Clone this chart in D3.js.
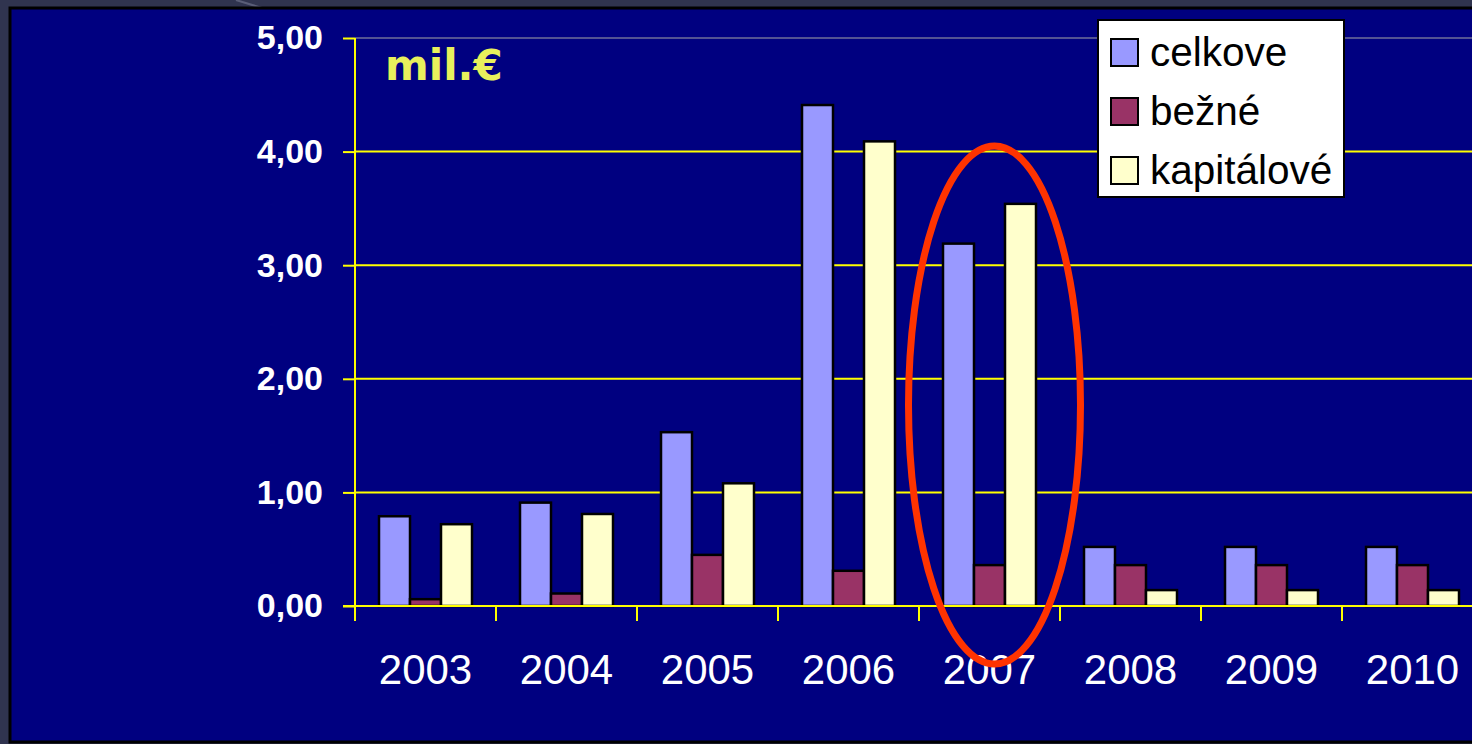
<!DOCTYPE html>
<html>
<head>
<meta charset="utf-8">
<script src="https://cdn.jsdelivr.net/npm/d3@7"></script>
<style>
  html, body { margin: 0; padding: 0; background: #2f3352; }
  svg { display: block; }
</style>
</head>
<body>
<svg id="chart"></svg>
<script>
// years on the x axis
var years = ['2003', '2004', '2005', '2006', '2007', '2008', '2009', '2010'];
// series names (legend)
var seriesNames = ['celkove', 'bežné', 'kapitálové'];
// values in mil. EUR
var celkove    = [0.79, 0.91, 1.53, 4.41, 3.19, 0.52, 0.52, 0.52];
var bezne      = [0.06, 0.11, 0.45, 0.31, 0.36, 0.36, 0.36, 0.36];
var kapitalove = [0.72, 0.81, 1.08, 4.09, 3.54, 0.14, 0.14, 0.14];
var yTicks = [0, 1, 2, 3, 4, 5];

var colors = ['#9999ff', '#993366', '#ffffcc'];

var width = 1472, height = 744;

var chart = d3.select('#chart')
  .attr('width', width)
  .attr('height', height);

// build rows for the grouped bars
var seriesValues = [celkove, bezne, kapitalove];
var data = years.map(function(y, i) {
  return {
    year: y,
    values: seriesNames.map(function(s, j) { return { name: s, idx: j, value: seriesValues[j][i] }; })
  };
});

// slide background: dark panel with black frame
chart.append('rect')
  .attr('x', 0).attr('y', 0)
  .attr('width', width).attr('height', height)
  .attr('fill', '#30344f');
chart.append('line')
  .attr('x1', 236).attr('y1', 0).attr('x2', 262).attr('y2', 8)
  .attr('stroke', '#5a5e78').attr('stroke-width', 2);
chart.append('rect')
  .attr('x', 10).attr('y', 8)
  .attr('width', width + 20).attr('height', 734)
  .attr('fill', '#000080')
  .attr('stroke', '#000').attr('stroke-width', 3);

// scales
var plotLeft = 355, catW = 141,
    plotTop = 38, plotBottom = 606;

var x = d3.scaleBand()
  .domain(years)
  .range([plotLeft, plotLeft + catW * years.length])
  .paddingInner(0).paddingOuter(0);

var xSub = d3.scaleBand()
  .domain(seriesNames)
  .range([24, catW - 24]);

var y = d3.scaleLinear()
  .domain([0, 5])
  .range([plotBottom, plotTop]);

// gridlines
var grid = chart.append('g').attr('id', 'grid');
grid.selectAll('line')
  .data(yTicks.filter(function(d) { return d > 0 && d < 5; }))
  .enter().append('line')
    .attr('x1', plotLeft).attr('x2', width)
    .attr('y1', function(d) { return y(d); })
    .attr('y2', function(d) { return y(d); })
    .attr('stroke', '#ffff00').attr('stroke-width', 2);
// top plot border is greyish
grid.append('line')
  .attr('x1', plotLeft).attr('x2', width)
  .attr('y1', y(5)).attr('y2', y(5))
  .attr('stroke', '#6f6f9a').attr('stroke-width', 1.5);

// bars
var groups = chart.append('g').attr('id', 'bars')
  .selectAll('g')
  .data(data)
  .enter().append('g')
    .attr('transform', function(d) { return 'translate(' + x(d.year) + ',0)'; });

groups.selectAll('rect')
  .data(function(d) { return d.values; })
  .enter().append('rect')
    .attr('x', function(d) { return xSub(d.name); })
    .attr('y', function(d) { return y(d.value); })
    .attr('width', xSub.bandwidth())
    .attr('height', function(d) { return plotBottom - y(d.value); })
    .attr('fill', function(d) { return colors[d.idx]; })
    .attr('stroke', '#000').attr('stroke-width', 2.5);

// y axis
var fmt = d3.formatLocale({ decimal: ',', thousands: ' ', grouping: [3], currency: ['', '€'] }).format('.2f');
var yAxis = chart.append('g')
  .attr('id', 'y-axis')
  .attr('transform', 'translate(' + plotLeft + ',0)')
  .call(d3.axisLeft(y).tickValues(yTicks).tickFormat(fmt).tickSize(12).tickPadding(20));
yAxis.select('.domain').attr('stroke', '#ffff00').attr('stroke-width', 2)
  .attr('d', 'M0,' + (plotTop) + 'V' + (plotBottom + 15));
yAxis.selectAll('.tick line').attr('stroke', '#ffff00').attr('stroke-width', 2);
yAxis.selectAll('text')
  .attr('fill', '#fff')
  .style('font-family', '"Liberation Sans", Arial, sans-serif')
  .style('font-weight', 'bold')
  .style('font-size', '34px');

// x axis: labels at the centres, ticks at the category boundaries
var xAxis = chart.append('g')
  .attr('id', 'x-axis')
  .attr('transform', 'translate(0,' + plotBottom + ')')
  .call(d3.axisBottom(x).tickSize(0).tickPadding(48));
xAxis.select('.domain').attr('stroke', '#ffff00').attr('stroke-width', 2)
  .attr('d', 'M' + (plotLeft - 12) + ',0H' + width);
xAxis.selectAll('text')
  .attr('fill', '#fff')
  .style('font-family', '"Liberation Sans", Arial, sans-serif')
  .style('font-size', '42px');
xAxis.selectAll('.boundary')
  .data(years)
  .enter().append('line')
    .attr('class', 'boundary')
    .attr('x1', function(d) { return x(d) + x.bandwidth(); })
    .attr('x2', function(d) { return x(d) + x.bandwidth(); })
    .attr('y1', 0).attr('y2', 15)
    .attr('stroke', '#ffff00').attr('stroke-width', 2);

// unit label
chart.append('text')
  .attr('x', 385).attr('y', 80)
  .attr('fill', '#e8f05c')
  .style('font-family', '"DejaVu Sans", Verdana, sans-serif')
  .style('font-weight', 'bold')
  .style('font-size', '42px')
  .text('mil.€');

// legend
var legend = chart.append('g').attr('id', 'legend')
  .attr('transform', 'translate(1098,20)');
legend.append('rect')
  .attr('width', 246).attr('height', 177)
  .attr('fill', '#fff')
  .attr('stroke', '#000').attr('stroke-width', 2);
var items = legend.selectAll('.item')
  .data(seriesNames)
  .enter().append('g')
    .attr('class', 'item')
    .attr('transform', function(d, i) { return 'translate(0,' + (i * 59) + ')'; });
items.append('rect')
  .attr('x', 13).attr('y', 19)
  .attr('width', 27).attr('height', 27)
  .attr('fill', function(d, i) { return colors[i]; })
  .attr('stroke', '#000').attr('stroke-width', 2);
items.append('text')
  .attr('x', 52).attr('y', 46)
  .attr('fill', '#000')
  .style('font-family', '"Liberation Sans", Arial, sans-serif')
  .style('font-size', '40.5px')
  .text(function(d) { return d; });

// red ellipse highlighting 2007
chart.append('ellipse')
  .attr('cx', x('2007') + x.bandwidth() / 2 + 5)
  .attr('cy', 405)
  .attr('rx', 86).attr('ry', 259)
  .attr('fill', 'none')
  .attr('stroke', '#ff3300').attr('stroke-width', 7);
</script>
</body>
</html>
